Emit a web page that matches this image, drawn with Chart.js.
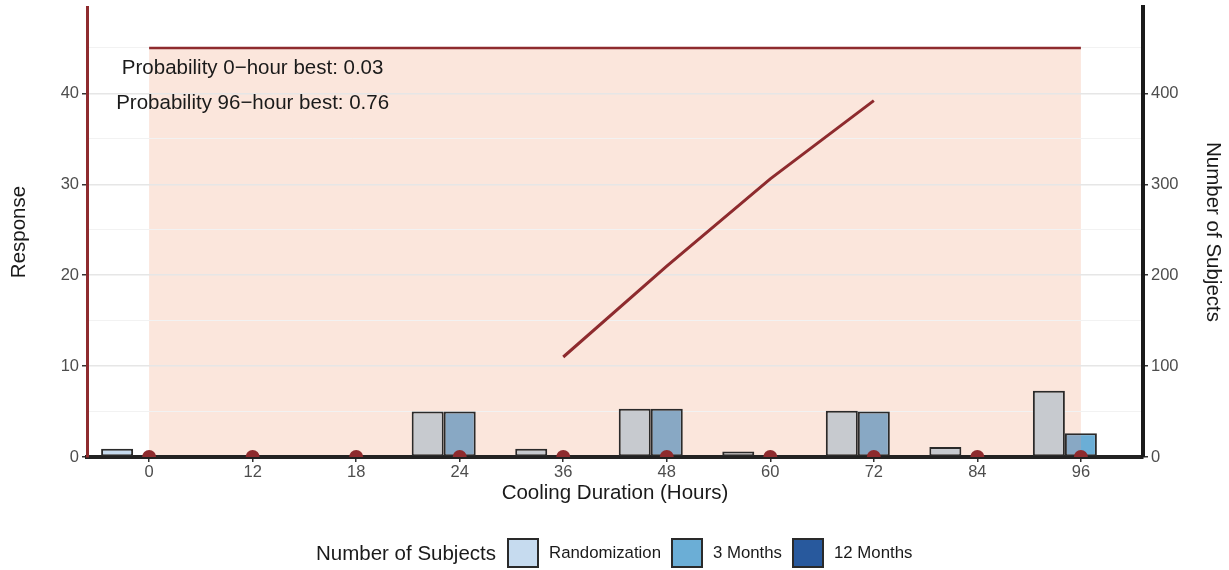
<!DOCTYPE html>
<html>
<head>
<meta charset="utf-8">
<script src="https://cdn.jsdelivr.net/npm/chart.js@4"></script>
<style>
  body { margin: 0; background: #fff; font-family: "Liberation Sans", Arial, sans-serif; }
  #wrap { position: relative; width: 1229px; height: 570px; }
  #legend { position: absolute; left: 316px; top: 538px; display: flex; align-items: center; color: #1a1a1a; }
  #legend .title { font-size: 20.5px; margin-right: 11px; }
  #legend .box { width: 28px; height: 26px; border: 2.5px solid #2a2a2a; margin-right: 10px; }
  #legend .lbl { font-size: 16.8px; margin-right: 10px; }
</style>
</head>
<body>
<div id="wrap">
  <canvas id="chart" width="1229" height="570"></canvas>
  <div id="legend"></div>
</div>
<script>
const categories = ['0', '12', '18', '24', '36', '48', '60', '72', '84', '96'];
const randomization = [9, 0, 0, 50, 9, 53, 6, 51, 11, 73];
const threeMonths = [0, 0, 0, 50, 1, 53, 0, 50, 1, 26];
const twelveMonths = [0, 0, 0, 0, 0, 0, 0, 0, 0, 0];
const response = [null, null, null, null, 11, 21, 30.6, 39.2, null, null];
const baseline = [0, 0, 0, 0, 0, 0, 0, 0, 0, 0];
const ceiling = [45, 45, 45, 45, 45, 45, 45, 45, 45, 45];
const responseTicks = [0, 5, 10, 15, 20, 25, 30, 35, 40, 45];
const subjectTicks = [0, 100, 200, 300, 400];
const notes = ['Probability 0\u2212hour best: 0.03', 'Probability 96\u2212hour best: 0.76'];
const noteY = [42.7, 38.9];

const RED = '#8e2b2e';
const FONT = '"Liberation Sans", Arial, sans-serif';

const series = [
  { label: 'Randomization', data: randomization, out: '#c6dbef', inside: '#c7cacf' },
  { label: '3 Months', data: threeMonths, out: '#6baed6', inside: '#88a8c4' },
  { label: '12 Months', data: twelveMonths, out: '#28599d', inside: '#3d5f8f' }
];

function points(arr) {
  return arr.map((v, i) => ({ x: i, y: v })).filter(p => p.y !== null);
}

// fill colour changes where the bar crosses the shaded band
function bandFill(s) {
  return function (ctx) {
    const chart = ctx.chart;
    const x = chart.scales.x;
    const w = chart.width;
    if (!x || !w) return s.out;
    const a = x.getPixelForValue(0) / w;
    const b = x.getPixelForValue(categories.length - 1) / w;
    if (!isFinite(a) || !isFinite(b) || a < 0 || b > 1 || a >= b) return s.inside;
    const g = chart.ctx.createLinearGradient(0, 0, w, 0);
    g.addColorStop(0, s.out);
    g.addColorStop(a, s.out);
    g.addColorStop(a, s.inside);
    g.addColorStop(b, s.inside);
    g.addColorStop(b, s.out);
    g.addColorStop(1, s.out);
    return g;
  };
}

const shade = {
  id: 'shade',
  beforeDraw(chart) {
    const { ctx, scales } = chart;
    const x0 = scales.x.getPixelForValue(0);
    const x1 = scales.x.getPixelForValue(categories.length - 1);
    const y0 = scales.y.getPixelForValue(0);
    const y1 = scales.y.getPixelForValue(45);
    ctx.save();
    ctx.fillStyle = '#fbe6dc';
    ctx.fillRect(x0, y1, x1 - x0, y0 - y1);
    ctx.restore();
  },
  afterDatasetsDraw(chart) {
    const { ctx, scales } = chart;
    ctx.save();
    ctx.font = '20.5px ' + FONT;
    ctx.fillStyle = '#1a1a1a';
    ctx.textAlign = 'center';
    ctx.textBaseline = 'middle';
    notes.forEach((t, i) => {
      ctx.fillText(t, scales.x.getPixelForValue(1), scales.y.getPixelForValue(noteY[i]));
    });
    ctx.restore();
  }
};

const datasets = [
  {
    type: 'line', data: points(baseline), yAxisID: 'y', showLine: false,
    pointRadius: 7, pointBackgroundColor: RED, pointBorderWidth: 0, clip: 0
  },
  {
    type: 'line', data: points(response), yAxisID: 'y', borderColor: RED,
    borderWidth: 3, pointRadius: 0
  },
  {
    type: 'line', data: points(ceiling), yAxisID: 'y', borderColor: RED,
    borderWidth: 2.5, pointRadius: 0
  }
];
series.forEach(s => {
  datasets.push({
    type: 'bar', label: s.label, data: points(s.data), yAxisID: 'y2',
    backgroundColor: bandFill(s), borderColor: '#2a2a2a', borderWidth: 2,
    borderSkipped: false, barPercentage: 1, categoryPercentage: 0.9275
  });
});

const tickFont = { family: FONT, size: 16.5 };
const titleFont = { family: FONT, size: 20.5 };

function noVPad(sc, w) {
  sc.width = w;
  sc.paddingTop = 0;
  sc.paddingBottom = 0;
}

const chart = new Chart(document.getElementById('chart'), {
  data: { datasets: datasets },
  plugins: [shade],
  options: {
    responsive: false,
    animation: false,
    layout: { padding: { top: 5, bottom: 53, left: 0, right: 0 } },
    plugins: { legend: { display: false }, tooltip: { enabled: false } },
    scales: {
      x: {
        type: 'linear', min: -0.6, max: 9.6, offset: false,
        afterBuildTicks: sc => { sc.ticks = categories.map((c, i) => ({ value: i })); },
        afterFit: sc => { sc.height = 60; },
        ticks: { font: tickFont, color: '#4d4d4d', padding: 1, callback: v => categories[v] },
        grid: { offset: false, drawOnChartArea: false, tickLength: 5, color: '#333', lineWidth: 1.5 },
        border: { color: '#222', width: 4 },
        title: { display: true, text: 'Cooling Duration (Hours)', font: titleFont, color: '#1a1a1a', padding: { top: 0, bottom: 11 } }
      },
      y: {
        position: 'left', min: 0, max: 49.5,
        afterBuildTicks: sc => { sc.ticks = responseTicks.map(v => ({ value: v })); },
        afterFit: sc => noVPad(sc, 87),
        ticks: { font: tickFont, color: '#4d4d4d', padding: 3, callback: v => (v % 10 === 0 ? v : '') },
        grid: {
          tickLength: 5,
          color: c => (c.tick && c.tick.value % 10 === 0 ? '#e6e6e6' : '#f2f2f2'),
          tickColor: c => (c.tick && c.tick.value % 10 === 0 ? '#333' : 'rgba(0,0,0,0)'),
          lineWidth: c => (c.tick && c.tick.value % 10 === 0 ? 1.5 : 1)
        },
        border: { color: RED, width: 3 },
        title: { display: true, text: 'Response', font: titleFont, color: '#1a1a1a', padding: { top: 7, bottom: 0 } }
      },
      y2: {
        position: 'right', min: 0, max: 495,
        afterBuildTicks: sc => { sc.ticks = subjectTicks.map(v => ({ value: v })); },
        afterFit: sc => noVPad(sc, 86),
        ticks: { font: tickFont, color: '#4d4d4d', padding: 3 },
        grid: { drawOnChartArea: false, tickLength: 5, color: '#333', lineWidth: 1.5 },
        border: { color: '#1a1a1a', width: 4 },
        title: { display: true, text: 'Number of Subjects', font: titleFont, color: '#1a1a1a', padding: { top: 4, bottom: 0 } }
      }
    }
  }
});
chart.update();

const legend = document.getElementById('legend');
let html = '<span class="title">Number of Subjects</span>';
series.forEach(s => {
  html += '<span class="box" style="background:' + s.out + '"></span><span class="lbl">' + s.label + '</span>';
});
legend.innerHTML = html;
</script>
</body>
</html>
